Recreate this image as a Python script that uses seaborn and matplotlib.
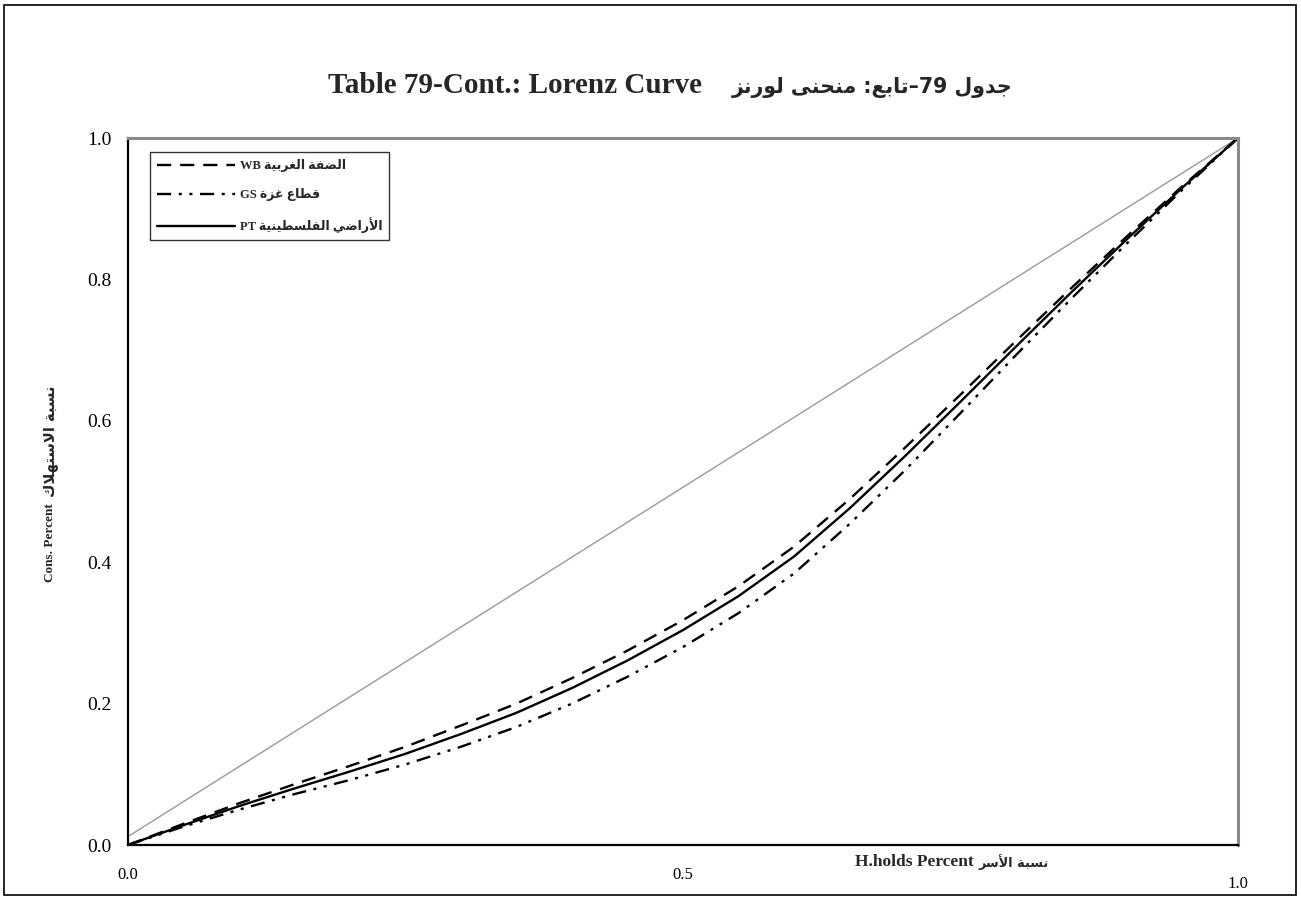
import re
import numpy as np
import pandas as pd
import matplotlib
matplotlib.use("Agg")
import matplotlib.pyplot as plt
import matplotlib.transforms as mtransforms
from matplotlib.patches import Rectangle
import seaborn as sns

# ---------------- data ----------------
hh_share = [0.00, 0.05, 0.10, 0.15, 0.20, 0.25, 0.30, 0.35, 0.40, 0.45, 0.50,
            0.55, 0.60, 0.65, 0.70, 0.75, 0.80, 0.85, 0.90, 0.95, 1.00]
wb_cons = [0.000, 0.030, 0.059, 0.086, 0.112, 0.139, 0.169, 0.200, 0.236, 0.275, 0.318,
           0.366, 0.422, 0.489, 0.562, 0.637, 0.713, 0.788, 0.861, 0.932, 1.000]
gs_cons = [0.000, 0.026, 0.050, 0.072, 0.092, 0.114, 0.139, 0.167, 0.200, 0.238, 0.280,
           0.328, 0.384, 0.454, 0.530, 0.611, 0.693, 0.773, 0.851, 0.927, 1.000]
pt_cons = [0.000, 0.028, 0.055, 0.080, 0.104, 0.129, 0.157, 0.187, 0.222, 0.261, 0.304,
           0.352, 0.408, 0.476, 0.550, 0.627, 0.705, 0.782, 0.857, 0.930, 1.000]
equality_x = [0.0, 1.0]
equality_y = [0.012, 1.0]

series_labels_ar = ["الضفة الغربية WB", "قطاع غزة GS", "الأراضي الفلسطينية PT"]
title_en = "Table 79-Cont.: Lorenz Curve"
title_ar = "جدول 79–تابع: منحنى لورنز"
xlabel_en = "H.holds Percent"
xlabel_ar = "نسبة الأسر"
ylabel_en = "Cons. Percent"
ylabel_ar = "نسبة الاستهلاك"
x_ticks = [0.0, 0.25, 0.5, 0.75, 1.0]
x_ticklabels = ["0.0", "", "0.5", "", "1.0"]
y_ticks = [0.0, 0.2, 0.4, 0.6, 0.8, 1.0]
y_ticklabels = ["0.0", "0.2", "0.4", "0.6", "0.8", "1.0"]

# ---------------- minimal Arabic shaping (matplotlib has no bidi) ----------------
FORMS = {  # isolated, final, initial, medial
    '\u0627': ('\uFE8D', '\uFE8E', None, None),
    '\u0623': ('\uFE83', '\uFE84', None, None),
    '\u0628': ('\uFE8F', '\uFE90', '\uFE91', '\uFE92'),
    '\u0629': ('\uFE93', '\uFE94', None, None),
    '\u062A': ('\uFE95', '\uFE96', '\uFE97', '\uFE98'),
    '\u062C': ('\uFE9D', '\uFE9E', '\uFE9F', '\uFEA0'),
    '\u062D': ('\uFEA1', '\uFEA2', '\uFEA3', '\uFEA4'),
    '\u062F': ('\uFEA9', '\uFEAA', None, None),
    '\u0631': ('\uFEAD', '\uFEAE', None, None),
    '\u0632': ('\uFEAF', '\uFEB0', None, None),
    '\u0633': ('\uFEB1', '\uFEB2', '\uFEB3', '\uFEB4'),
    '\u0636': ('\uFEBD', '\uFEBE', '\uFEBF', '\uFEC0'),
    '\u0637': ('\uFEC1', '\uFEC2', '\uFEC3', '\uFEC4'),
    '\u0639': ('\uFEC9', '\uFECA', '\uFECB', '\uFECC'),
    '\u063A': ('\uFECD', '\uFECE', '\uFECF', '\uFED0'),
    '\u0641': ('\uFED1', '\uFED2', '\uFED3', '\uFED4'),
    '\u0642': ('\uFED5', '\uFED6', '\uFED7', '\uFED8'),
    '\u0643': ('\uFED9', '\uFEDA', '\uFEDB', '\uFEDC'),
    '\u0644': ('\uFEDD', '\uFEDE', '\uFEDF', '\uFEE0'),
    '\u0645': ('\uFEE1', '\uFEE2', '\uFEE3', '\uFEE4'),
    '\u0646': ('\uFEE5', '\uFEE6', '\uFEE7', '\uFEE8'),
    '\u0647': ('\uFEE9', '\uFEEA', '\uFEEB', '\uFEEC'),
    '\u0648': ('\uFEED', '\uFEEE', None, None),
    '\u0649': ('\uFEEF', '\uFEF0', None, None),
    '\u064A': ('\uFEF1', '\uFEF2', '\uFEF3', '\uFEF4'),
}
LAM_ALEF = {'\u0627': ('\uFEFB', '\uFEFC', None, None),
            '\u0623': ('\uFEF7', '\uFEF8', None, None)}


def shape(text):
    toks = []
    i = 0
    while i < len(text):
        c = text[i]
        if c == '\u0644' and i + 1 < len(text) and text[i + 1] in LAM_ALEF:
            toks.append(LAM_ALEF[text[i + 1]])
            i += 2
            continue
        toks.append(FORMS.get(c, c))
        i += 1
    out = []
    for k, t in enumerate(toks):
        if isinstance(t, str):
            out.append(t)
            continue
        prev = toks[k - 1] if k > 0 else None
        nxt = toks[k + 1] if k + 1 < len(toks) else None
        jp = isinstance(prev, tuple) and prev[2] is not None
        jn = t[2] is not None and isinstance(nxt, tuple)
        if jp and jn:
            out.append(t[3])
        elif jp:
            out.append(t[1])
        elif jn:
            out.append(t[2])
        else:
            out.append(t[0])
    return ''.join(out)


def rtl(text):
    vis = shape(text)[::-1]
    return re.sub(r'[A-Za-z0-9.]+', lambda m: m.group(0)[::-1], vis)


# ---------------- style ----------------
sns.set_style("white")
FAM = ['Liberation Serif', 'DejaVu Sans']
plt.rcParams['font.family'] = FAM

fig = plt.figure(figsize=(13.01, 8.99), dpi=100)
ax = fig.add_axes([128 / 1301, 1 - 845 / 899, 1110 / 1301, 707 / 899])

df = pd.DataFrame({
    "x": hh_share * 3,
    "y": wb_cons + gs_cons + pt_cons,
    "series": sum([[rtl(s)] * len(hh_share) for s in series_labels_ar], []),
})
order = [rtl(s) for s in series_labels_ar]

sns.lineplot(x=equality_x, y=equality_y, color="#9a9a9a", linewidth=1.0, ax=ax)
dash_map = {order[0]: (6.0, 3.8), order[1]: (6.0, 3.2, 1.3, 3.2, 1.3, 3.2), order[2]: ""}
sns.lineplot(data=df, x="x", y="y", hue="series", style="series",
             hue_order=order, style_order=order,
             palette=["black"] * 3, dashes=dash_map, linewidth=1.7,
             sort=False, ax=ax)

ax.set_xlim(0, 1)
ax.set_ylim(0, 1)
ax.set_xticks(x_ticks)
ax.set_xticklabels(x_ticklabels)
ax.set_yticks(y_ticks)
ax.set_yticklabels(y_ticklabels)
ax.tick_params(axis='x', direction='in', length=5, width=1, pad=16, labelsize=12, colors='black')
ax.tick_params(axis='y', direction='in', length=5, width=1, pad=12, labelsize=14, colors='black')
for lab in ax.get_xticklabels() + ax.get_yticklabels():
    lab.set_family(FAM)

# last x tick label sits a little lower in the reference
lbl = ax.get_xticklabels()[-1]
lbl.set_transform(lbl.get_transform() + mtransforms.ScaledTranslation(0, -9 / 100, fig.dpi_scale_trans))

for side in ['left', 'bottom']:
    ax.spines[side].set_color('black')
    ax.spines[side].set_linewidth(1.6)
for side in ['top', 'right']:
    ax.spines[side].set_color('#8a8a8a')
    ax.spines[side].set_linewidth(2.2)

# axis labels: English part as the real label, Arabic part attached next to it
ax.set_xlabel(xlabel_en, fontsize=12.5, fontweight='bold', family=FAM)
ax.xaxis.set_label_coords(0.708, -0.024)
ax.xaxis.label.set_va('center')
ax.annotate(rtl(xlabel_ar), xy=(1, 0.5), xycoords=ax.xaxis.label,
            xytext=(4, 0), textcoords='offset points', ha='left', va='center',
            fontsize=9.3, fontweight='bold', family=['DejaVu Sans'])

ax.set_ylabel(ylabel_en, fontsize=9.5, fontweight='bold', family=FAM)
ax.yaxis.set_label_coords(-0.070, 0.428)
ax.yaxis.label.set_va('center')
ax.annotate(rtl(ylabel_ar), xy=(0.5, 1), xycoords=ax.yaxis.label,
            xytext=(0, 4), textcoords='offset points', ha='center', va='bottom',
            rotation=90, fontsize=10.6, fontweight='bold', family=['DejaVu Sans'])

# title: English and Arabic parts on one baseline
base_y = 1 - 93 / 899
fig.text(702 / 1301, base_y, title_en, ha='right', va='baseline',
         fontsize=21, fontweight='bold', family=FAM)
fig.text(732 / 1301, base_y, rtl(title_ar), ha='left', va='baseline',
         fontsize=14.8, fontweight='bold', family=['DejaVu Sans'])

handles, labels = ax.get_legend_handles_labels()
leg = ax.legend(handles=handles[-3:], labels=labels[-3:], loc='upper left',
                bbox_to_anchor=(0.02, 0.98), borderaxespad=0, frameon=True,
                fancybox=False, edgecolor='black', handlelength=6.2,
                handletextpad=0.4, labelspacing=1.3, borderpad=0.55,
                prop={'family': FAM, 'weight': 'bold', 'size': 9})
leg.get_frame().set_linewidth(1.0)
for h in leg.get_lines():
    h.set_linewidth(1.7)

fig.patches.append(Rectangle((4 / 1301, 4 / 899), 1292 / 1301, 890 / 899,
                             transform=fig.transFigure, fill=False,
                             edgecolor='black', linewidth=1.2))

fig.savefig("out.png", dpi=100)
